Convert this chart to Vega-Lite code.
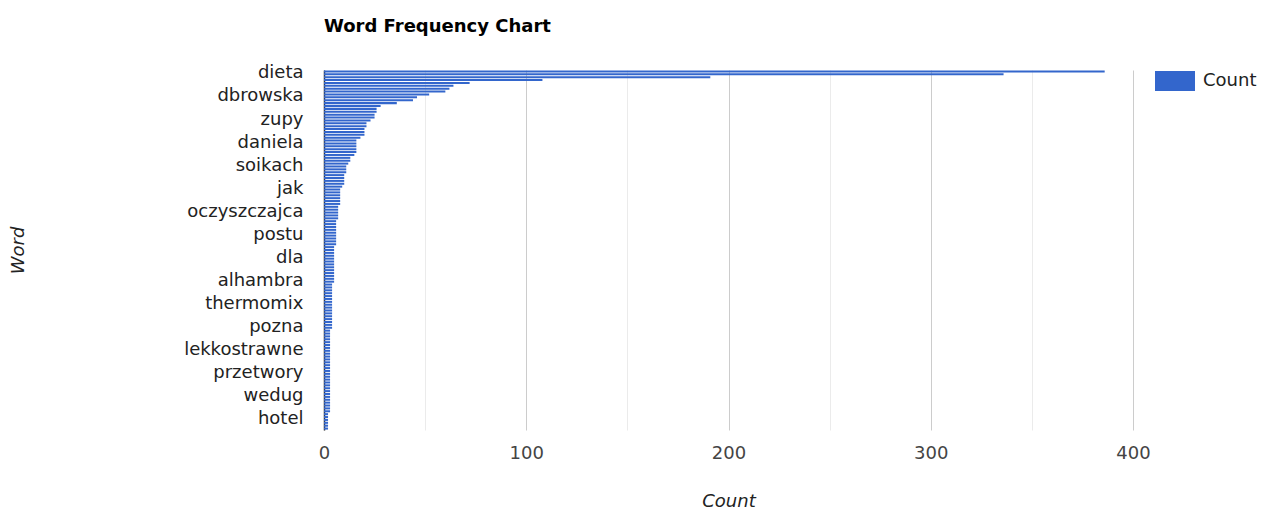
{
  "$schema": "https://vega.github.io/schema/vega-lite/v6.json",
  "width": 809,
  "height": 360,
  "autosize": "none",
  "padding": {"left": 324, "top": 70, "right": 129, "bottom": 80},
  "background": "#ffffff",
  "config": {
    "view": {"stroke": null},
    "font": "DejaVu Sans"
  },
  "title": {
    "text": "Word Frequency Chart",
    "anchor": "start",
    "frame": "group",
    "font": "DejaVu Sans",
    "fontSize": 18,
    "fontWeight": "bold",
    "color": "#000000",
    "offset": 25
  },
  "data": {
    "values": [
      {"word": "dieta", "count": 386},
      {"word": "warzywno", "count": 336},
      {"word": "owocowa", "count": 191},
      {"word": "ewy", "count": 108},
      {"word": "przepisy", "count": 72},
      {"word": "dni", "count": 64},
      {"word": "post", "count": 62},
      {"word": "dr", "count": 60},
      {"word": "dbrowska", "count": 52},
      {"word": "dbrowskiej", "count": 46},
      {"word": "na", "count": 44},
      {"word": "blog", "count": 36},
      {"word": "menu", "count": 28},
      {"word": "efekty", "count": 26},
      {"word": "odchudzanie", "count": 26},
      {"word": "sok", "count": 25},
      {"word": "zupy", "count": 25},
      {"word": "przepis", "count": 23},
      {"word": "zupa", "count": 21},
      {"word": "warzywa", "count": 21},
      {"word": "jadospis", "count": 20},
      {"word": "owoce", "count": 20},
      {"word": "kapusta", "count": 20},
      {"word": "saatka", "count": 18},
      {"word": "daniela", "count": 16},
      {"word": "warzywny", "count": 16},
      {"word": "buraki", "count": 16},
      {"word": "kiszonki", "count": 16},
      {"word": "pomidorowa", "count": 16},
      {"word": "marchew", "count": 15},
      {"word": "ogrki", "count": 13},
      {"word": "kalafior", "count": 13},
      {"word": "soikach", "count": 12},
      {"word": "koktajl", "count": 11},
      {"word": "cukinia", "count": 11},
      {"word": "dynia", "count": 11},
      {"word": "papryka", "count": 10},
      {"word": "jabka", "count": 10},
      {"word": "zdrowie", "count": 10},
      {"word": "detoks", "count": 10},
      {"word": "jak", "count": 9},
      {"word": "kiszona", "count": 8},
      {"word": "barszcz", "count": 8},
      {"word": "ros", "count": 8},
      {"word": "pieczone", "count": 8},
      {"word": "leczo", "count": 8},
      {"word": "krem", "count": 8},
      {"word": "brokuy", "count": 7},
      {"word": "oczyszczajca", "count": 7},
      {"word": "gotowanie", "count": 7},
      {"word": "wyjcie", "count": 7},
      {"word": "przed", "count": 7},
      {"word": "oczyszczanie", "count": 6},
      {"word": "ziela", "count": 6},
      {"word": "seler", "count": 6},
      {"word": "por", "count": 6},
      {"word": "postu", "count": 6},
      {"word": "kuracja", "count": 6},
      {"word": "opinie", "count": 6},
      {"word": "forum", "count": 6},
      {"word": "efekt", "count": 6},
      {"word": "waga", "count": 5},
      {"word": "kg", "count": 5},
      {"word": "kilogramy", "count": 5},
      {"word": "dla", "count": 5},
      {"word": "pocztkujcych", "count": 5},
      {"word": "tydzie", "count": 5},
      {"word": "kapuniak", "count": 5},
      {"word": "ogrkowa", "count": 5},
      {"word": "grzyby", "count": 5},
      {"word": "fasolka", "count": 5},
      {"word": "szpinak", "count": 5},
      {"word": "alhambra", "count": 5},
      {"word": "hiszpania", "count": 5},
      {"word": "granada", "count": 4},
      {"word": "podr", "count": 4},
      {"word": "wakacje", "count": 4},
      {"word": "zdjcia", "count": 4},
      {"word": "andaluzja", "count": 4},
      {"word": "sewilla", "count": 4},
      {"word": "thermomix", "count": 4},
      {"word": "robot", "count": 4},
      {"word": "kuchenny", "count": 4},
      {"word": "blender", "count": 4},
      {"word": "sokowirwka", "count": 4},
      {"word": "garnki", "count": 4},
      {"word": "wyciskarka", "count": 4},
      {"word": "restauracja", "count": 4},
      {"word": "pozna", "count": 4},
      {"word": "warszawa", "count": 4},
      {"word": "krakw", "count": 3},
      {"word": "gdask", "count": 3},
      {"word": "wrocaw", "count": 3},
      {"word": "miasto", "count": 3},
      {"word": "kawiarnia", "count": 3},
      {"word": "obiad", "count": 3},
      {"word": "lekkostrawne", "count": 3},
      {"word": "dania", "count": 3},
      {"word": "kolacja", "count": 3},
      {"word": "niadanie", "count": 3},
      {"word": "przekski", "count": 3},
      {"word": "desery", "count": 3},
      {"word": "ciasto", "count": 3},
      {"word": "wypieki", "count": 3},
      {"word": "przetwory", "count": 3},
      {"word": "dem", "count": 3},
      {"word": "konfitury", "count": 3},
      {"word": "marynaty", "count": 3},
      {"word": "kompot", "count": 3},
      {"word": "syrop", "count": 3},
      {"word": "piwnica", "count": 3},
      {"word": "zima", "count": 3},
      {"word": "wedug", "count": 3},
      {"word": "zasady", "count": 3},
      {"word": "rady", "count": 3},
      {"word": "porady", "count": 3},
      {"word": "ksika", "count": 3},
      {"word": "autorka", "count": 3},
      {"word": "lekarz", "count": 3},
      {"word": "zdrowy", "count": 2},
      {"word": "hotel", "count": 2},
      {"word": "spa", "count": 2},
      {"word": "pobyt", "count": 2},
      {"word": "turnus", "count": 2},
      {"word": "orodek", "count": 2}
    ]
  },
  "mark": {"type": "bar"},
  "encoding": {
    "y": {
      "field": "word",
      "type": "nominal",
      "sort": null,
      "scale": {"paddingInner": 0.3, "paddingOuter": 0.15},
      "axis": {
        "title": "Word",
        "values": ["dieta", "dbrowska", "zupy", "daniela", "soikach", "jak", "oczyszczajca", "postu", "dla", "alhambra", "thermomix", "pozna", "lekkostrawne", "przetwory", "wedug", "hotel"],
        "ticks": false,
        "domain": true,
        "domainColor": "#333333",
        "domainWidth": 1.5,
        "grid": false,
        "labelFont": "DejaVu Sans",
        "labelFontSize": 18,
        "labelColor": "#222222",
        "labelPadding": 21,
        "labelOffset": 2,
        "titleFont": "DejaVu Sans",
        "titleFontSize": 18,
        "titleFontStyle": "italic",
        "titleFontWeight": "normal",
        "titleColor": "#222222",
        "titleX": -306,
        "titleY": 180,
        "titleAlign": "center",
        "titleBaseline": "middle",
        "titleAngle": -90
      }
    },
    "x": {
      "field": "count",
      "type": "quantitative",
      "scale": {"domain": [0, 400], "nice": false},
      "axis": {
        "title": "Count",
        "values": [0, 50, 100, 150, 200, 250, 300, 350, 400],
        "labelExpr": "datum.value % 100 === 0 ? datum.label : ''",
        "labelFlush": false,
        "ticks": false,
        "domain": false,
        "grid": true,
        "gridColor": {"condition": {"test": "datum.value % 100 === 0", "value": "#cccccc"}, "value": "#ebebeb"},
        "labelFont": "DejaVu Sans",
        "labelFontSize": 18,
        "labelColor": "#444444",
        "labelPadding": 14,
        "titleFont": "DejaVu Sans",
        "titleFontSize": 18,
        "titleFontStyle": "italic",
        "titleFontWeight": "normal",
        "titleColor": "#222222",
        "titlePadding": 30
      }
    },
    "color": {
      "datum": "Count",
      "type": "nominal",
      "scale": {"range": ["#3366cc"]},
      "legend": {
        "title": null,
        "orient": "none",
        "legendX": 831,
        "legendY": -9,
        "symbolType": "M-1,-0.5H1V0.5H-1Z",
        "symbolSize": 1600,
        "symbolStrokeWidth": 0,
        "symbolOpacity": 1,
        "labelFont": "DejaVu Sans",
        "labelFontSize": 18,
        "labelColor": "#222222",
        "labelOffset": 8
      }
    }
  }
}
